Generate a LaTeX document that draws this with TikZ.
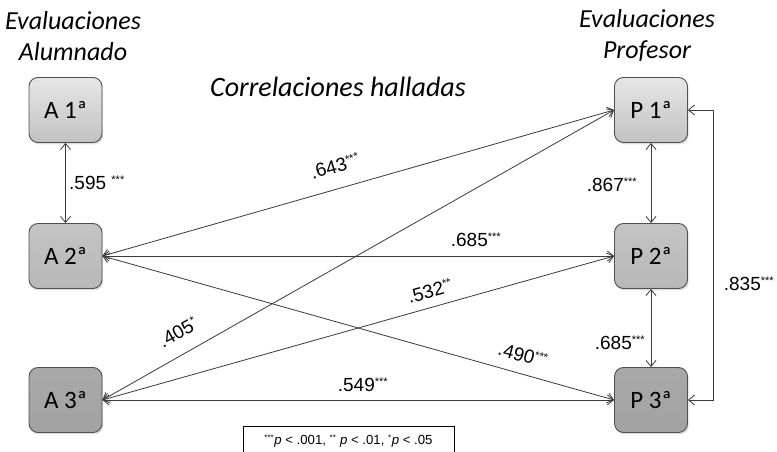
\documentclass[tikz,border=0pt]{standalone}
\usepackage{fontspec}
\setmainfont{Liberation Sans}
\newfontfamily\calfont{Carlito}
\usetikzlibrary{arrows.meta,shadows}
\definecolor{linec}{HTML}{3A3A3A}
\definecolor{boxline}{HTML}{505050}
\definecolor{aonetop}{HTML}{E6E6E6}
\definecolor{aonebot}{HTML}{C2C2C2}
\definecolor{atwotop}{HTML}{C4C4C4}
\definecolor{atwobot}{HTML}{B8B8B8}
\definecolor{athreetop}{HTML}{A9A9A9}
\definecolor{athreebot}{HTML}{A2A2A2}
\tikzset{
  evbox/.style={rounded corners=9pt, draw=boxline, line width=0.9pt,
    minimum width=73pt, minimum height=65pt, inner sep=0pt,
    font=\calfont\fontsize{25}{28}\selectfont,
    drop shadow={opacity=0.25, shadow xshift=1.2pt, shadow yshift=-2pt}},
  lvone/.style={evbox, top color=aonetop, bottom color=aonebot},
  lvtwo/.style={evbox, top color=atwotop, bottom color=atwobot},
  lvthree/.style={evbox, top color=athreetop, bottom color=athreebot},
  corr/.style={draw=linec, line width=0.8pt, {Straight Barb[length=6pt,width=10pt]}-{Straight Barb[length=6pt,width=10pt]}},
  lab/.style={font=\fontsize{19}{22}\selectfont, inner sep=0pt},
  ttl/.style={font=\calfont\itshape\fontsize{26}{31}\selectfont, align=center},
}
\newcommand{\sst}[1]{\textsuperscript{\fontsize{11}{11}\selectfont #1}}
\newcommand{\lst}[1]{\textsuperscript{\fontsize{8}{8}\selectfont #1}}
\begin{document}
\begin{tikzpicture}[x=1pt,y=1pt]
\useasboundingbox (0,0) rectangle (777,452);
\fill[white] (0,0) rectangle (777,452);
% titles
\node[ttl] (tA) at (73,416) {Evaluaciones\\Alumnado};
\node[ttl] (tP) at (647,416) {Evaluaciones\\Profesor};
\node[ttl, font=\calfont\itshape\fontsize{28}{32}\selectfont] (tC) at (338,365) {Correlaciones halladas};
% boxes
\node[lvone] (A1) at (65.5,342) {A 1ª};
\node[lvtwo] (A2) at (65.5,196) {A 2ª};
\node[lvthree] (A3) at (65.5,52) {A 3ª};
\node[lvone] (P1) at (651,342) {P 1ª};
\node[lvtwo] (P2) at (651,196) {P 2ª};
\node[lvthree] (P3) at (651,52) {P 3ª};
% connectors
\draw[corr] (A1) -- (A2);
\draw[corr] (P1) -- (P2);
\draw[corr] (P2) -- (P3);
\draw[corr] (A2.east) -- (P1.west);
\draw[corr] (A2.east) -- (P2.west);
\draw[corr] (A2.east) -- (P3.west);
\draw[corr] (A3.east) -- (P1.west);
\draw[corr] (A3.east) -- (P2.west);
\draw[corr] (A3.east) -- (P3.west);
\coordinate (elb) at (713,0);
\draw[corr] (P1.east) -- (P1.east -| elb) -- (P3.east -| elb) -- (P3.east);
% labels
\node[lab, anchor=west] (l1) at (69,269) {.595 \sst{***}};
\node[lab, rotate=15.8] (l2) at (335,286) {.643\sst{***}};
\node[lab] (l3) at (476,212) {.685\sst{***}};
\node[lab, rotate=15.6] (l4) at (430,161) {.532\sst{**}};
\node[lab, rotate=29.4] (l5) at (178,120) {.405\sst{*}};
\node[lab, rotate=-15.5] (l6) at (523,97) {.490\sst{***}};
\node[lab] (l7) at (363,67) {.549\sst{***}};
\node[lab] (l8) at (612,267) {.867\sst{***}};
\node[lab] (l9) at (620,109) {.685\sst{***}};
\node[lab] (l10) at (749,168) {.835\sst{***}};
% legend
\node[draw=black, line width=0.8pt, minimum width=211pt, minimum height=30pt, inner sep=0pt,
  font=\fontsize{13.2}{15}\selectfont] (leg) at (348.5,11)
  {\lst{***}\textit{p} < .001, \lst{**} \textit{p} < .01, \lst{*}\textit{p} < .05};
\end{tikzpicture}
\end{document}
